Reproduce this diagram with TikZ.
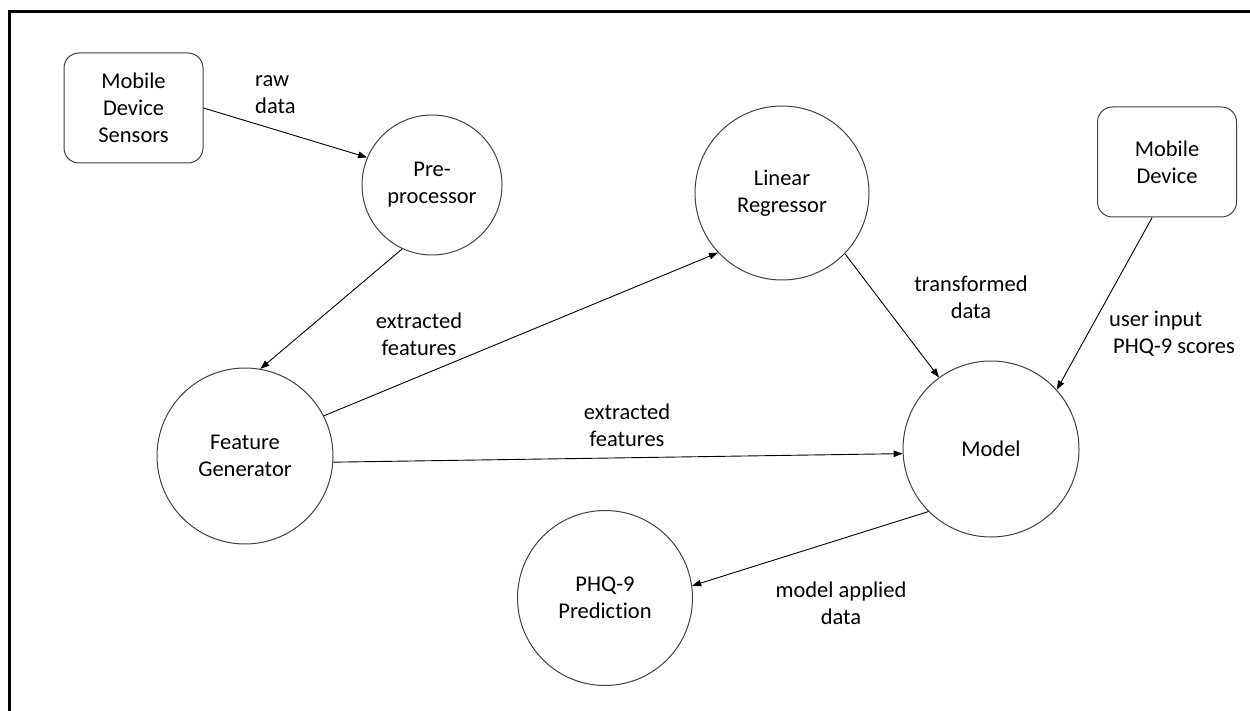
\documentclass[tikz,border=0pt]{standalone}
\usepackage{fontspec}
\setmainfont{Carlito}[Ligatures=NoCommon]
\usetikzlibrary{arrows.meta}

\begin{document}
\begin{tikzpicture}[x=1pt,y=-1pt,
  every node/.style={font=\fontsize{22.5}{27}\selectfont},
  proc/.style={circle, draw=black!75, line width=1pt, minimum size=176pt,
    inner sep=0pt, align=center},
  dev/.style={rectangle, rounded corners=15pt, draw=black!75, line width=1pt,
    minimum width=139pt, minimum height=110pt, inner sep=0pt, align=center},
  flow/.style={draw=black, line width=0.9pt, -{Triangle[length=9pt,width=6.5pt]}},
  lbl/.style={inner sep=0pt}
]
\useasboundingbox (0,0) rectangle (1250,711);

% outer frame (top and left edges)
\draw[line width=2.7pt] (1250,11.3) -- (9.7,11.3) -- (9.7,711);

% components
\node[dev] (sensors) at (133.5,108) {Mobile\\Device\\Sensors};
\node[proc, minimum size=140pt] (pre) at (432,185) {Pre-\\processor};
\node[proc, minimum size=174pt] (lin) at (782,193) {Linear\\Regressor};
\node[dev] (mobile) at (1167,162) {Mobile\\Device};
\node[proc] (feat) at (245,456) {Feature\\Generator};
\node[proc] (model) at (991,449) {Model};
\node[proc, minimum size=175pt] (phq) at (605,598) {PHQ-9\\Prediction};

% data flows
\draw[flow] (sensors.east) -- (pre.157);
\draw[flow] (pre.245) -- (feat.80);
\draw[flow] (feat.27) -- (lin.223);
\draw[flow] (feat.-4) -- (model.183);
\draw[flow] (lin.-44) -- (model.126);
\draw[flow] (mobile.255) -- (model.42);
\draw[flow] (model.225) -- (phq.8);

% flow labels
\node[lbl, align=left, anchor=west] (lraw) at (255,95) {raw\\data};
\node[lbl, align=center] (lext1) at (419,334) {extracted\\features};
\node[lbl, align=center] (lext2) at (627,425) {extracted\\features};
\node[lbl, align=center] (ltrans) at (971,297) {transformed\\data};
\node[lbl, align=left, anchor=west] (luser) at (1109,334) {user input\\\hspace*{4pt}PHQ-9 scores};
\node[lbl, align=center] (lapp) at (841,603) {model applied\\data};
\end{tikzpicture}
\end{document}
